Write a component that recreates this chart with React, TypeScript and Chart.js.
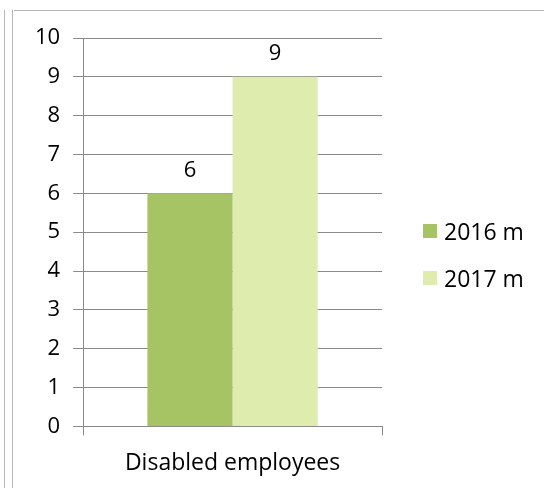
import React, { useEffect, useRef } from "react";
import { Chart, registerables } from "chart.js";

Chart.register(...registerables);

const categories = ["Disabled employees"];
const seriesLabels = ["2016 m", "2017 m"];
const values2016 = [6];
const values2017 = [9];
const yTicks = [0, 1, 2, 3, 4, 5, 6, 7, 8, 9, 10];
const colors = ["#a6c463", "#deecae"];

const FONT = "'Open Sans', sans-serif";

const valueLabels = {
  id: "valueLabels",
  afterDatasetsDraw(chart: any) {
    const ctx = chart.ctx;
    ctx.save();
    ctx.font = `22px ${FONT}`;
    ctx.fillStyle = "#000";
    ctx.textAlign = "center";
    ctx.textBaseline = "middle";
    chart.data.datasets.forEach((ds: any, i: number) => {
      const meta = chart.getDatasetMeta(i);
      meta.data.forEach((el: any, j: number) => {
        ctx.fillText(String(ds.data[j]), el.x, el.y - 23);
      });
    });
    ctx.restore();
  },
};

export default function App() {
  const ref = useRef<HTMLCanvasElement | null>(null);
  useEffect(() => {
    if (!ref.current) return;
    const chart = new Chart(ref.current, {
      type: "bar",
      data: {
        labels: categories,
        datasets: [
          { label: seriesLabels[0], data: values2016, backgroundColor: colors[0] },
          { label: seriesLabels[1], data: values2017, backgroundColor: colors[1] },
        ],
      },
      options: {
        animation: false,
        responsive: false,
        maintainAspectRatio: false,
        layout: { padding: { left: 22, right: 162, top: 35, bottom: 0 } },
        plugins: { legend: { display: false }, tooltip: { enabled: false } },
        datasets: { bar: { barPercentage: 1, categoryPercentage: 0.57 } },
        scales: {
          x: {
            grid: { display: true, drawOnChartArea: false, drawTicks: true, tickLength: 9, color: "#8a8a8a", offset: true },
            border: { color: "#8a8a8a" },
            ticks: { color: "#000", font: { family: FONT, size: 23 }, padding: 14 },
          },
          y: {
            min: 0,
            max: 10,
            afterBuildTicks: (axis: any) => {
              axis.ticks = yTicks.map((v) => ({ value: v }));
            },
            grid: { color: "#8a8a8a", tickLength: 10 },
            border: { color: "#8a8a8a" },
            ticks: { color: "#000", font: { family: FONT, size: 22 }, padding: 13 },
          },
        },
      },
      plugins: [valueLabels],
    });
    return () => chart.destroy();
  }, []);

  const legendItem = (i: number, top: number) => (
    <div style={{ position: "absolute", left: 423, top, height: 30, display: "flex", alignItems: "center", fontFamily: FONT, fontSize: 23, color: "#000" }}>
      <span style={{ display: "inline-block", width: 14, height: 14, background: colors[i], marginRight: 7 }} />
      <span>{seriesLabels[i]}</span>
    </div>
  );

  return (
    <div style={{ position: "fixed", left: 0, top: 0, width: 544, height: 488, background: "#fff", overflow: "hidden" }}>
      <div style={{ position: "absolute", left: 4, top: 10, width: 1, height: 478, background: "#b5b5b5" }} />
      <div style={{ position: "absolute", left: 12, top: 10, width: 1, height: 478, background: "#b5b5b5" }} />
      <div style={{ position: "absolute", left: 14, top: 10, width: 530, height: 1, background: "#b5b5b5" }} />
      <canvas ref={ref} width={544} height={488} style={{ position: "absolute", left: 0, top: 3 }} />
      {legendItem(0, 216)}
      {legendItem(1, 263)}
    </div>
  );
}
